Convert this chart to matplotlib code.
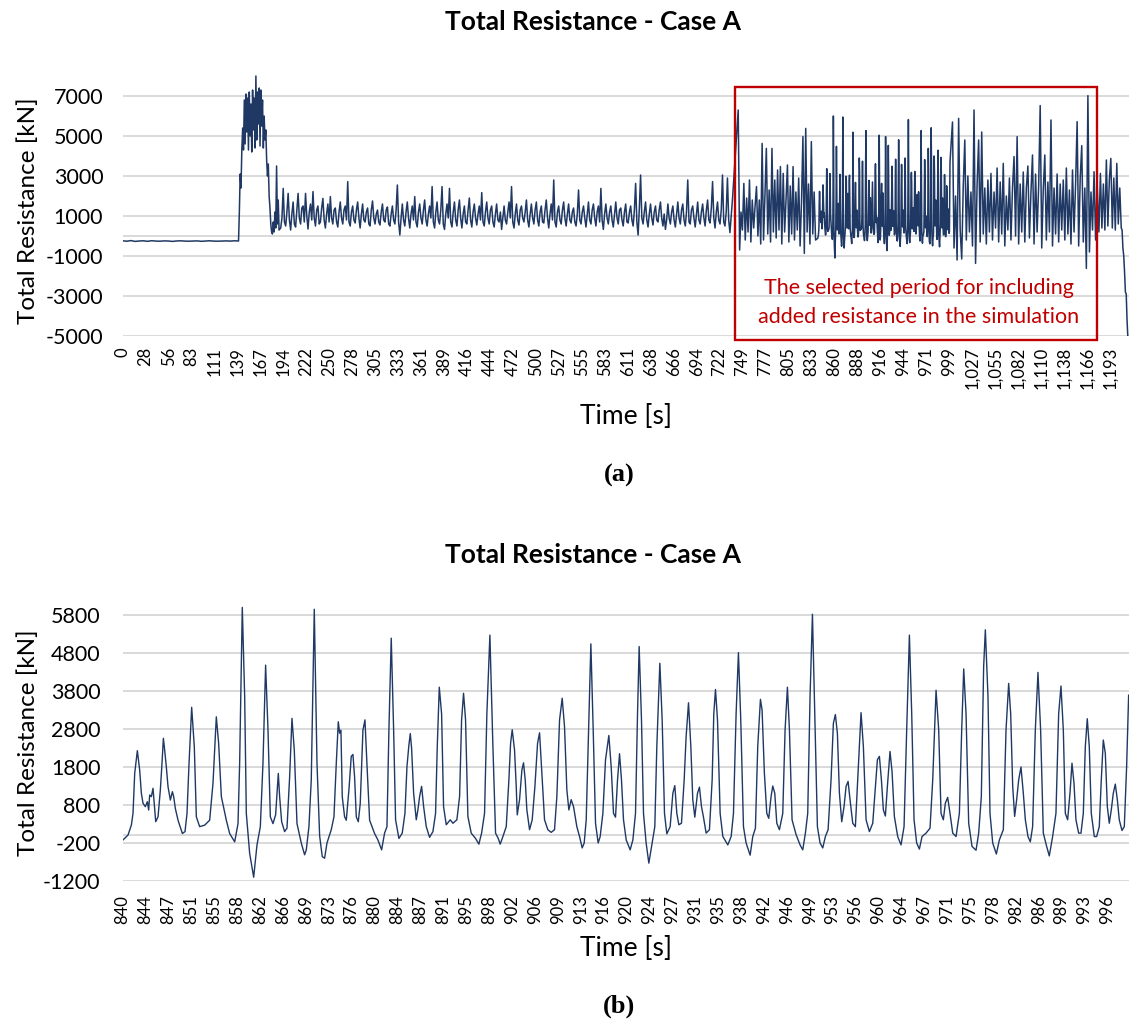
import numpy as np
import matplotlib
matplotlib.use("Agg")
import matplotlib.pyplot as plt
from matplotlib.patches import Rectangle

plt.rcParams['font.family'] = ['Lato', 'DejaVu Sans']

LINE = '#1F3864'
GRID = '#D9D9D9'
RED = '#C00000'

title_text = "Total Resistance - Case A"
ylabel_text = "Total Resistance [kN]"
xlabel_text = "Time [s]"
box_lines = ["The selected period for including", "added resistance in the simulation"]
panel_labels = ["(a)", "(b)"]

# ---------------- axis tick labels ----------------
top_xtick_labels = ['0', '28', '56', '83', '111', '139', '167', '194', '222', '250', '278', '305',
                    '333', '361', '389', '416', '444', '472', '500', '527', '555', '583', '611',
                    '638', '666', '694', '722', '749', '777', '805', '833', '860', '888', '916',
                    '944', '971', '999', '1,027', '1,055', '1,082', '1,110', '1,138', '1,166', '1,193']
top_xtick_step = 27.75
top_yticks = [-5000, -3000, -1000, 1000, 3000, 5000, 7000]

bot_xtick_labels = ['840', '844', '847', '851', '855', '858', '862', '866', '869', '873', '876',
                    '880', '884', '887', '891', '895', '898', '902', '906', '909', '913', '916',
                    '920', '924', '927', '931', '935', '938', '942', '946', '949', '953', '956',
                    '960', '964', '967', '971', '975', '978', '982', '986', '989', '993', '996']
bot_xtick_start = 840
bot_xtick_step = 3.642
bot_yticks = [-1200, -200, 800, 1800, 2800, 3800, 4800, 5800]

# ---------------- data (b): 840-1000 s, (time, kN) ----------------
detail_points = [
    (840.05, -120), (840.85, 10), (841.38, 274), (841.64, 581), (841.91, 1634), (842.33, 2230),
    (842.70, 1721), (842.97, 1107), (843.23, 845), (843.60, 756), (843.92, 887), (844.13, 668),
    (844.29, 1063), (844.56, 1020), (844.82, 1239), (845.09, 668), (845.25, 361), (845.62, 490),
    (845.99, 1200), (846.25, 1900), (846.47, 2555), (846.62, 2330), (846.94, 1800), (847.21, 1280),
    (847.58, 930), (847.90, 1150), (848.11, 1020), (848.37, 710), (848.80, 400), (849.49, 50),
    (849.91, 100), (850.23, 580), (850.55, 1900), (850.97, 3370), (851.39, 2330), (851.71, 490),
    (852.24, 230), (853.04, 270), (853.83, 400), (854.36, 1370), (854.89, 3120), (855.26, 2420),
    (855.69, 1020), (856.48, 400), (857.01, 50), (857.81, -170), (858.34, 310), (858.60, 1900),
    (859.02, 6000), (859.40, 3650), (859.66, 580), (860.19, -470), (860.83, -1100), (861.36, -250),
    (861.89, 230), (862.31, 1900), (862.73, 4480), (863.11, 2770), (863.48, 490), (863.90, 310),
    (864.32, 540), (864.75, 1630), (864.96, 1020), (865.28, 360), (865.75, 100), (866.13, 190),
    (866.55, 1540), (866.92, 3080), (867.29, 2250), (867.72, 310), (868.40, -200), (868.93, -510),
    (869.20, -380), (869.62, 230), (869.99, 1460), (870.47, 5950), (870.90, 1900), (871.32, -10),
    (871.74, -560), (872.11, -600), (872.49, -200), (873.17, 150), (873.60, 490), (873.97, 1900),
    (874.29, 2990), (874.50, 2690), (874.71, 2770), (874.92, 1020), (875.29, 490), (875.56, 400),
    (875.98, 1200), (876.35, 2080), (876.62, 2130), (876.88, 1540), (877.15, 490), (877.47, 360),
    (877.78, 840), (878.21, 2770), (878.53, 3040), (878.84, 1900), (879.27, 400), (880.06, 50),
    (880.59, -120), (881.18, -380), (881.65, 60), (882.03, 230), (882.34, 2780), (882.71, 5190),
    (883.09, 2780), (883.40, 410), (883.93, -80), (884.46, 60), (884.89, 580), (885.21, 1810),
    (885.52, 2380), (885.74, 2680), (885.95, 2290), (886.27, 1110), (886.69, 410), (886.95, 670),
    (887.22, 1020), (887.54, 1290), (887.86, 760), (888.28, 230), (888.81, -50), (889.34, 100),
    (889.76, 580), (890.03, 2340), (890.35, 3900), (890.72, 3200), (891.03, 760), (891.46, 280),
    (892.09, 410), (892.52, 320), (893.15, 410), (893.58, 1020), (893.90, 3040), (894.21, 3740),
    (894.53, 3040), (894.90, 500), (895.43, 60), (896.12, -80), (896.65, -230), (897.08, 60),
    (897.55, 580), (897.92, 3200), (898.40, 5270), (898.88, 2340), (899.30, 60), (899.73, -80),
    (900.04, -230), (900.47, -30), (901.00, 230), (901.42, 1460), (901.69, 2420), (901.95, 2780),
    (902.32, 2250), (902.59, 1290), (902.75, 540), (903.12, 940), (903.49, 1720), (903.75, 1910),
    (904.02, 1460), (904.28, 670), (904.71, 150), (905.13, 410), (905.56, 1290), (905.98, 2420),
    (906.30, 2700), (906.72, 1460), (907.09, 410), (907.62, 150), (908.15, 80), (908.68, 150),
    (909.05, 1020), (909.48, 3040), (909.90, 3610), (910.27, 2860), (910.64, 1200), (910.96, 670),
    (911.33, 940), (911.70, 760), (912.23, 230), (912.66, -30), (913.08, -330), (913.40, -200),
    (913.72, 410), (914.09, 2780), (914.46, 5040), (914.83, 2780), (915.20, 320), (915.62, -200),
    (915.94, -30), (916.37, 580), (916.79, 1990), (917.32, 2630), (917.69, 1810), (918.06, 580),
    (918.38, 480), (918.70, 1460), (919.02, 2150), (919.33, 1460), (919.65, 410), (920.08, -120),
    (920.71, -380), (921.14, -120), (921.56, 580), (921.88, 3200), (922.14, 4970), (922.51, 3040),
    (922.83, 580), (923.25, -200), (923.68, -730), (924.21, -200), (924.63, 230), (924.95, 2340),
    (925.43, 4530), (925.80, 3040), (926.17, 580), (926.54, 40), (927.07, 230), (927.50, 1110),
    (927.81, 1310), (928.13, 580), (928.45, 280), (928.87, 320), (929.30, 1460), (929.61, 2600),
    (929.99, 3490), (930.36, 2340), (930.67, 940), (930.99, 480), (931.42, 1110), (931.73, 1270),
    (932.05, 760), (932.37, 480), (932.79, 60), (933.32, 150), (933.75, 1460), (934.01, 3200),
    (934.28, 3840), (934.60, 3040), (935.02, 580), (935.45, -30), (936.24, -250), (936.77, -30),
    (937.14, 580), (937.56, 3200), (937.93, 4810), (938.30, 3040), (938.73, 230), (939.15, -200),
    (939.79, -520), (940.21, -30), (940.63, 190), (941.00, 2340), (941.43, 3580), (941.69, 3300),
    (942.06, 1630), (942.44, 580), (942.75, 450), (943.12, 1020), (943.39, 1300), (943.71, 1110),
    (944.03, 320), (944.45, 150), (944.98, 580), (945.35, 2780), (945.72, 3900), (946.04, 2780),
    (946.46, 410), (947.10, 20), (947.73, -250), (948.16, -380), (948.58, 60), (948.95, 580),
    (949.32, 3650), (949.70, 5820), (950.07, 3200), (950.49, 230), (950.91, -200), (951.34, -330),
    (951.76, -30), (952.19, 150), (952.66, 1460), (953.03, 2950), (953.35, 3180), (953.67, 2680),
    (953.99, 1110), (954.36, 360), (954.73, 760), (955.05, 1290), (955.37, 1420), (955.68, 940),
    (956.11, 320), (956.53, 230), (956.90, 1460), (957.43, 3230), (957.80, 2340), (958.23, 410),
    (958.76, 100), (959.29, 320), (959.71, 1290), (960.03, 1990), (960.35, 2080), (960.67, 1460),
    (960.98, 670), (961.30, 510), (961.62, 1290), (962.04, 2210), (962.36, 1680), (962.73, 500),
    (963.26, -30), (963.79, -250), (964.27, 230), (964.69, 2780), (965.12, 5270), (965.49, 3200),
    (965.86, 410), (966.28, -200), (966.71, -360), (967.13, -30), (967.77, 60), (968.40, 190),
    (968.83, 1460), (969.36, 3820), (969.78, 2780), (970.15, 580), (970.52, 410), (970.84, 850),
    (971.21, 1000), (971.58, 580), (972.01, 60), (972.54, -30), (973.07, 580), (973.44, 2780),
    (973.76, 4380), (974.13, 3200), (974.55, 320), (975.08, -290), (975.72, -390), (976.14, 60),
    (976.56, 1020), (976.93, 4440), (977.20, 5410), (977.62, 3650), (977.94, 580), (978.37, -200),
    (978.95, -490), (979.43, -120), (980.06, 150), (980.49, 2780), (980.91, 4000), (981.23, 3200),
    (981.55, 1290), (981.86, 500), (982.18, 940), (982.50, 1460), (982.87, 1800), (983.24, 1110),
    (983.56, 410), (983.98, -30), (984.35, -170), (984.72, 230), (985.15, 2780), (985.57, 4290),
    (985.99, 2780), (986.42, 60), (986.95, -290), (987.37, -540), (987.90, -30), (988.43, 580),
    (988.86, 3200), (989.23, 3930), (989.60, 2780), (989.92, 580), (990.29, 410), (990.66, 1110),
    (990.98, 1900), (991.30, 1370), (991.61, 410), (992.04, 60), (992.41, 60), (992.78, 580),
    (993.10, 2340), (993.41, 3070), (993.73, 2340), (994.05, 580), (994.53, -30), (994.90, -30),
    (995.32, 230), (995.64, 1460), (995.96, 2510), (996.28, 2160), (996.60, 760), (996.91, 320),
    (997.23, 670), (997.55, 1110), (997.87, 1350), (998.19, 940), (998.50, 410), (998.93, 130),
    (999.30, 230), (999.67, 1810), (999.99, 3690),
]

# ---------------- data (a): full record, segments (start s, step s, values kN) ----------------
seg_calm = (0, 5, [-240, -260, -230, -270, -250, -240, -265, -235, -255, -260, -245, -250, -270, -250,
                   -240, -255, -260, -250, -245, -265, -250, -240, -255, -260, -250, -245, -255, -240])
seg_start = (140, 1, [-250, 1200, 3100, 2400, 4300, 5400, 4300, 6800, 4600, 7100, 5200, 6900, 4300, 7200,
                      5000, 6600, 4200, 7300, 5300, 6900, 4400, 8000, 4800, 7200, 5600, 7400, 4500, 7300,
                      5500, 6800, 4400, 6000, 4800, 5300, 3800, 3000, 3600, 2000, 1400, 600, 200, 100,
                      700, 200, 1200, 400, 3500, 600, 1800, 300])
seg_steady = (191, 1.5, [
    400, 900, 2380, 700, 500, 1200, 2130, 800, 300, 1100, 1700, 600, 450, 1300, 2130, 900, 600, 1400, 1500, 700,
    2130, 1000, 350, 1200, 1600, 800, 2220, 900, 500, 1300, 1500, 600, 700, 1400, 1880, 800, 400, 1100, 1600, 700,
    1970, 900, 600, 1300, 1400, 700, 450, 1200, 1700, 900, 600, 1300, 1500, 800, 2720, 700, 500, 1200, 1500, 800,
    650, 1300, 1700, 900, 400, 1100, 1600, 800, 700, 1200, 1400, 600, 500, 1300, 1750, 900, 600, 1100, 1300, 700,
    550, 1200, 1600, 800, 700, 1300, 1450, 600, 500, 1100, 1500, 800, 600, 1300, 2550, 700, 50, 900, 1600, 800,
    500, 1200, 1700, 900, 400, 1100, 1500, 800, 1970, 700, 450, 1200, 1600, 900, 600, 1300, 1800, 800, 500, 1100,
    1500, 900, 2470, 700, 400, 1200, 1700, 800, 600, 1300, 2470, 600, 330, 1100, 1600, 900, 2380, 700, 450, 1200,
    1700, 800, 500, 1300, 1800, 900, 400, 1100, 1500, 700, 600, 1300, 1900, 800, 450, 1200, 1600, 900, 550, 1100,
    1500, 800, 2170, 700, 500, 1200, 1700, 900, 600, 1300, 1500, 700, 450, 1100, 1600, 800, 700, 1200, 330, 900,
    1500, 800, 600, 1200, 1700, 900, 2470, 700, 400, 1100, 1600, 800, 550, 1300, 1500, 900, 700, 1200, 1800, 800,
    450, 1100, 1600, 900, 600, 1300, 1700, 800, 500, 1200, 1500, 700, 650, 1300, 1800, 900, 400, 1100, 1600, 800,
    2800, 700, 450, 1200, 1500, 800, 600, 1300, 1700, 900, 500, 1100, 1600, 800, 650, 1200, 1400, 700, 500, 1100,
    2300, 800, 600, 1200, 1500, 900, 450, 1100, 1700, 800, 600, 1300, 1600, 900, 500, 1200, 1500, 700, 2380, 800,
    330, 1100, 1600, 900, 600, 1200, 1500, 800, 450, 1100, 1700, 900, 600, 1300, 1400, 800, 500, 1200, 1600, 700,
    650, 1200, 1500, 800, 500, 1300, 2630, 700, 50, 1400, 3050, 900, 600, 1200, 1700, 800, 450, 1100, 1600, 900,
    550, 1200, 1500, 800, 700, 1300, 1700, 900, 500, 1100, 330, 800, 1600, 900, 600, 1200, 1500, 800, 450, 1100,
    1700, 900, 600, 1300, 1600, 800, 500, 1200, 2800, 700, 600, 1300, 1500, 900, 450, 1100, 1700, 800, 600, 1200,
    1600, 900, 500, 1300, 1800, 800, 650, 1400, 2720, 900, 400, 1200, 1700, 800, 600, 1300, 3050, 700, 500, 1200,
    2900, 800, 170, 1000, 1800])
seg_waves1 = (744, 1.7, [6300, -700, 1200, 300, 2630, -200, 1900, 200, 2800, -300, 1800, 400, 1500, 2470,
                         0, 1800, -400, 4630, -200, 2000, 4380, 100, 2300, -300, 4380, 200, 2800, -100,
                         3300, 300, 3470, -400, 3130, 200, 1800, 3550, -300, 2500, 100, 3470, -200, 2200,
                         300, 2900, -500, 1700, 4970, -870, 5380, 200, 2600, -400, 4720, 100, 2200, -200])
seg_waves2 = (1003, 1.86, [5700, -600, 2000, -1200, 5880, 300, -1150, 2500, 4800, -200, 3000, 200, 2200,
                           -500, 6300, -1370, 2600, 4800, -300, 5200, 100, 2400, -400, 2800, 200, 3130,
                           -200, 2200, 400, 3400, -300, 2700, 100, 3630, -500, 2000, 300, 2900, -200, 2400,
                           3970, 0, 4970, -400, 2600, 200, 3200, -300, 2400, 3500, -100, 2200, 4050, -400,
                           3100, 200, 2500, 6520, -600, 2300, 4050, -200, 2700, 200, 5800, -500, 2400, 100,
                           3100, -300, 2600, 300, 2800, -200, 3400, 100, 2300, -400, 3300, 200, 2600, 5717,
                           -500, 2900, 4515, -300, 2400, -1620, 7017, -800, 2200, 300, 3215, -200, 2600])
seg_waves3 = (1180, 1.8, [200, 3130, 400, 2600, 300, 3800, 500, 2800, 3880, 400, 2900, 300, 3630, 600,
                          2400, 400])
seg_end = (1208, 1.0, [300, -600, -1000, -1800, -2800, -2900, -4200, -5100])

# ---------------- assemble ----------------
def seg_arrays(seg):
    t0, dt, vals = seg
    return t0 + dt * np.arange(len(vals)), np.asarray(vals, float)

det_t = np.array([p[0] for p in detail_points])
det_v = np.array([p[1] for p in detail_points], float)

parts_t, parts_v = [], []
for s in (seg_calm, seg_start, seg_steady, seg_waves1):
    a, b = seg_arrays(s); parts_t.append(a); parts_v.append(b)
parts_t.append(det_t); parts_v.append(det_v)
for s in (seg_waves2, seg_waves3, seg_end):
    a, b = seg_arrays(s); parts_t.append(a); parts_v.append(b)
top_t = np.concatenate(parts_t)
top_v = np.concatenate(parts_v)

# ---------------- figure ----------------
W, H = 1130, 1019
fig = plt.figure(figsize=(W / 100, H / 100), dpi=100)


def axes_px(l, t, r, b):
    return fig.add_axes([l / W, 1 - b / H, (r - l) / W, (b - t) / H])


ax1 = axes_px(122.7, 74, 1128.7, 336)
ax2 = axes_px(122.7, 603.6, 1128.7, 881)


def style(ax, yticks, xpos, xlabels, ylim, xlim, ypad, xpad):
    ax.set_xlim(*xlim)
    ax.set_ylim(*ylim)
    for s in ax.spines.values():
        s.set_visible(False)
    ax.set_yticks(yticks)
    ax.set_yticklabels([str(v) for v in yticks])
    ax.yaxis.grid(True, color=GRID, lw=1.4)
    ax.set_axisbelow(True)
    ax.axhline(0, color=GRID, lw=1.4, zorder=0.5)
    ax.set_xticks(xpos)
    ax.set_xticklabels(xlabels, rotation=90)
    ax.tick_params(axis='both', length=0)
    ax.tick_params(axis='y', labelsize=15.5, pad=ypad, labelcolor='#000000')
    ax.tick_params(axis='x', labelsize=12, pad=xpad, labelcolor='#000000')


top_xpos = top_xtick_step * np.arange(len(top_xtick_labels))
bot_xpos = bot_xtick_start + bot_xtick_step * np.arange(len(bot_xtick_labels))

style(ax1, top_yticks, top_xpos, top_xtick_labels, (-5000, 8100), (0, 1216), 14, 8)
style(ax2, bot_yticks, bot_xpos, bot_xtick_labels, (-1200, 6100), (840, 1000), 16, 10)

ax1.plot(top_t, top_v, color=LINE, lw=1.1, zorder=2)
ax2.plot(det_t, det_v, color=LINE, lw=1.0, zorder=2)

# red selection box
box = Rectangle((740.1, -5200), 1177.6 - 740.1, 7450 + 5200, fill=False, edgecolor=RED,
                lw=1.7, clip_on=False, zorder=3)
ax1.add_patch(box)
ax1.text(962, -2600, box_lines[0], color=RED, fontsize=15.5, ha='center', va='center', zorder=4)
ax1.text(962, -4050, box_lines[1], color=RED, fontsize=15.5, ha='center', va='center', zorder=4)

# titles and labels
for yc in (22, 555):
    fig.text(593 / W, 1 - yc / H, title_text, fontsize=19, fontweight='bold', ha='center', va='center')
for yc in (211, 743):
    fig.text(28 / W, 1 - yc / H, ylabel_text, fontsize=17.5, rotation=90, ha='center', va='center')
for yc in (416, 948):
    fig.text(625.7 / W, 1 - yc / H, xlabel_text, fontsize=19, ha='center', va='center')
for lab, yc in zip(panel_labels, (475, 1006)):
    fig.text(619 / W, 1 - yc / H, lab, fontsize=19, fontweight='bold', family='Liberation Serif',
             ha='center', va='center')

fig.savefig('out.png', dpi=100)
